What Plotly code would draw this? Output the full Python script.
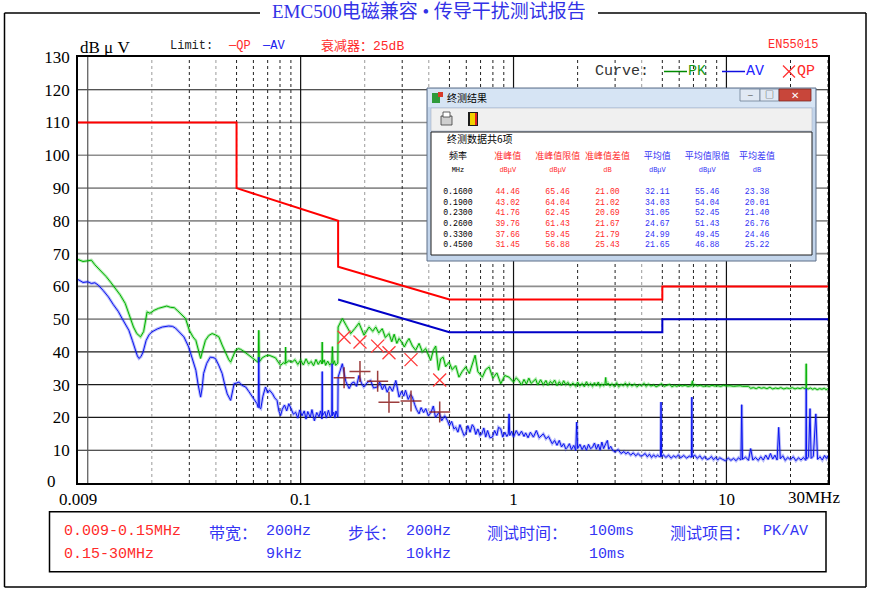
import math
import plotly.graph_objects as go

# ---------------- data ----------------
pk_freq = [
    0.0090, 0.0095, 0.0100, 0.0104, 0.0108, 0.0113, 0.0117, 0.0122, 0.0128, 0.0135,
    0.0142, 0.0150, 0.0157, 0.0164, 0.0170, 0.0177, 0.0183, 0.0187, 0.0190, 0.0196,
    0.0205, 0.0215, 0.0225, 0.0235, 0.0245, 0.0255, 0.0265, 0.0278, 0.0288, 0.0300,
    0.0312, 0.0322, 0.0332, 0.0339, 0.0347, 0.0357, 0.0370, 0.0384, 0.0398, 0.0413,
    0.0428, 0.0444, 0.0460, 0.0469, 0.0480, 0.0495, 0.0510, 0.0522, 0.0540, 0.0555,
    0.0571, 0.0590, 0.0614, 0.0632, 0.0636, 0.0640, 0.0660, 0.0685, 0.0710, 0.0735,
    0.0762, 0.0785, 0.0805, 0.0830, 0.0847, 0.0850, 0.0853, 0.0880, 0.0912, 0.0940,
    0.0970, 0.1000, 0.1030, 0.1060, 0.1090, 0.1120, 0.1150, 0.1180, 0.1210, 0.1240,
    0.1260, 0.1263, 0.1266, 0.1290, 0.1310, 0.1340, 0.1370, 0.1400, 0.1410, 0.1420,
    0.1440, 0.1460, 0.1495,
    0.1500, 0.1570, 0.1640, 0.1718, 0.1800, 0.1880, 0.1985, 0.2096, 0.2180, 0.2253,
    0.2330, 0.2417, 0.2500, 0.2600, 0.2680, 0.2750, 0.2830, 0.2900, 0.3000, 0.3070,
    0.3150, 0.3230, 0.3350, 0.3470, 0.3600, 0.3730, 0.3870, 0.3980, 0.4080, 0.4200,
    0.4310, 0.4440, 0.4550, 0.4670, 0.4800, 0.4980, 0.5150, 0.5350, 0.5540, 0.5750,
    0.5960, 0.6200, 0.6400, 0.6600, 0.6800, 0.7000, 0.7140, 0.7400, 0.7680, 0.8000,
    0.8350, 0.8710, 0.9100, 0.9530, 1.000, 1.030, 1.060, 1.090, 1.120, 1.150,
    1.180, 1.210, 1.230, 1.270, 1.300, 1.340, 1.380, 1.420, 1.450, 1.490,
    1.520, 1.560, 1.600, 1.640, 1.680, 1.720, 1.760, 1.800, 1.850, 1.900,
    1.960, 2.000, 2.050, 2.100, 2.150, 2.200, 2.250, 2.300, 2.350, 2.400,
    2.450, 2.500, 2.550, 2.600, 2.650, 2.690, 2.710, 2.730, 2.780, 2.840,
    2.900, 2.970, 3.050, 3.120, 3.200, 3.280, 3.350, 3.430, 3.500, 3.600,
    3.700, 3.800, 3.900, 4.000, 4.100, 4.200, 4.300, 4.420, 4.550, 4.680,
    4.830, 4.950, 5.100, 5.250, 5.400, 5.550, 5.700, 5.850, 6.000, 6.200,
    6.400, 6.600, 6.850, 6.920, 6.990, 7.150, 7.300, 7.550, 7.800, 8.050,
    8.300, 8.550, 8.800, 9.100, 9.400, 9.700, 10.00, 10.40, 10.80, 11.20,
    11.60, 11.90, 12.30, 12.70, 13.00, 13.40, 13.80, 14.20, 14.60, 15.00,
    15.50, 16.00, 16.50, 17.00, 17.50, 18.00, 18.60, 19.20, 19.80, 20.40,
    21.00, 21.60, 22.20, 22.80, 23.40, 23.65, 23.70, 23.75, 24.20, 24.80,
    25.40, 26.00, 26.70, 27.40, 28.10, 28.80, 29.40, 30.00,
]
pk_dbuv = [
    68.2, 67.6, 67.8, 68.0, 66.6, 65.3, 64.1, 63.0, 61.3, 59.4,
    57.4, 54.8, 51.4, 47.6, 45.6, 44.6, 46.2, 50.4, 52.2, 51.8,
    52.7, 53.3, 53.6, 54.0, 53.6, 53.5, 52.5, 51.2, 50.2, 46.6,
    44.6, 43.5, 40.0, 38.0, 40.6, 43.5, 45.0, 45.6, 45.2, 44.6,
    42.1, 39.5, 37.6, 36.9, 38.6, 40.5, 41.0, 40.8, 40.2, 39.6,
    39.0, 38.1, 37.4, 36.8, 46.6, 37.0, 38.2, 38.8, 39.0, 38.6,
    38.2, 36.9, 35.9, 36.7, 36.4, 41.5, 36.6, 37.3, 36.9, 37.6,
    36.2, 37.5, 36.0, 37.9, 36.3, 37.1, 35.8, 37.7, 36.2, 37.4,
    36.3, 43.0, 36.5, 37.6, 35.9, 37.2, 36.0, 36.8, 41.6, 36.2,
    37.3, 35.9, 36.6,
    47.6, 50.2, 48.0, 45.6, 47.2, 48.8, 45.1, 47.6, 46.3, 47.6,
    45.8, 47.1, 44.4, 45.6, 43.1, 45.4, 42.6, 44.1, 42.8, 41.5,
    43.0, 44.1, 41.8, 40.5, 42.6, 40.0, 41.0, 39.1, 37.4, 40.5,
    41.8, 34.4, 37.9, 38.4, 35.5, 36.9, 34.6, 35.8, 32.3, 34.1,
    35.4, 33.4, 36.4, 39.0, 34.0, 33.1, 32.3, 34.6, 35.4, 32.0,
    33.6, 30.3, 32.8, 32.3, 30.8, 32.1, 31.2, 29.9, 31.6, 30.2,
    32.0, 30.4, 30.8, 31.7, 29.9, 31.5, 30.0, 31.3, 29.8, 31.0,
    30.3, 31.4, 29.7, 30.9, 29.8, 31.2, 30.0, 30.7, 29.6, 30.5,
    29.5, 30.8, 29.6, 30.4, 29.4, 30.9, 29.7, 30.4, 29.5, 30.6,
    29.6, 30.8, 29.5, 30.2, 29.7, 30.4, 32.2, 29.8, 30.5, 29.6,
    30.3, 29.5, 30.6, 29.4, 30.1, 29.7, 30.5, 29.5, 30.4, 29.6,
    30.2, 29.4, 30.0, 29.7, 30.4, 29.5, 30.2, 29.6, 29.9, 29.4,
    29.8, 30.3, 29.5, 29.9, 30.1, 29.4, 29.8, 29.5, 29.9, 29.6,
    29.8, 29.5, 29.7, 31.2, 29.6, 29.9, 29.6, 29.8, 29.5, 29.7,
    29.5, 29.8, 29.6, 29.7, 29.5, 29.8, 29.6, 29.7, 29.5, 29.6,
    29.7, 29.5, 29.6, 29.5, 28.9, 29.1, 28.8, 29.2, 28.9, 29.1,
    28.8, 29.2, 28.7, 29.0, 28.8, 29.1, 28.7, 29.0, 28.8, 29.1,
    28.7, 29.0, 28.8, 29.1, 28.8, 29.0, 36.4, 28.9, 28.7, 29.0,
    28.6, 28.9, 28.5, 28.8, 28.6, 28.9, 28.5, 28.8,
]

av_freq = [
    0.0090, 0.0095, 0.0100, 0.0104, 0.0108, 0.0112, 0.0118, 0.0125, 0.0132, 0.0139,
    0.0145, 0.0150, 0.0156, 0.0162, 0.0167, 0.0171, 0.0174, 0.0178, 0.0182, 0.0188,
    0.0194, 0.0200, 0.0212, 0.0224, 0.0240, 0.0250, 0.0258, 0.0270, 0.0283, 0.0298,
    0.0308, 0.0315, 0.0322, 0.0330, 0.0339, 0.0345, 0.0350, 0.0362, 0.0376, 0.0387,
    0.0398, 0.0412, 0.0428, 0.0440, 0.0452, 0.0469, 0.0478, 0.0487, 0.0500, 0.0513,
    0.0530, 0.0552, 0.0570, 0.0594, 0.0610, 0.0624, 0.0632, 0.0636, 0.0640, 0.0650,
    0.0665, 0.0684, 0.0700, 0.0715, 0.0738, 0.0755, 0.0775, 0.0790, 0.0805, 0.0820,
    0.0840, 0.0860, 0.0880, 0.0900, 0.0925, 0.0947, 0.0970, 0.0990, 0.1015, 0.1040,
    0.1060, 0.1080, 0.1110, 0.1130, 0.1160, 0.1190, 0.1220, 0.1240, 0.1260, 0.1263,
    0.1266, 0.1300, 0.1320, 0.1350, 0.1380, 0.1400, 0.1405, 0.1410, 0.1430, 0.1450,
    0.1465, 0.1480, 0.1495,
    0.1500, 0.1570, 0.1630, 0.1690, 0.1740, 0.1780, 0.1830, 0.1880, 0.1930, 0.1980,
    0.2050, 0.2130, 0.2200, 0.2290, 0.2350, 0.2420, 0.2480, 0.2550, 0.2620, 0.2700,
    0.2800, 0.2850, 0.2900, 0.2980, 0.3050, 0.3110, 0.3200, 0.3280, 0.3350, 0.3430,
    0.3500, 0.3600, 0.3680, 0.3780, 0.3870, 0.3980, 0.4100, 0.4200, 0.4300, 0.4470,
    0.4600, 0.4750, 0.4890, 0.5000, 0.5120, 0.5250, 0.5350, 0.5480, 0.5600, 0.5750,
    0.5850, 0.5960, 0.6100, 0.6250, 0.6400, 0.6520, 0.6650, 0.6800, 0.6950, 0.7100,
    0.7250, 0.7400, 0.7550, 0.7750, 0.7960, 0.8150, 0.8350, 0.8500, 0.8710, 0.8900,
    0.9100, 0.9300, 0.9450, 0.9530, 0.9600, 0.9800, 1.000, 1.030, 1.060, 1.090,
    1.120, 1.140, 1.170, 1.200, 1.240, 1.280, 1.320, 1.380, 1.420, 1.460,
    1.520, 1.560, 1.600, 1.640, 1.680, 1.720, 1.760, 1.790, 1.830, 1.870,
    1.920, 1.960, 1.980, 2.000, 2.050, 2.100, 2.150, 2.200, 2.250, 2.300,
    2.350, 2.400, 2.450, 2.500, 2.550, 2.600, 2.650, 2.710, 2.760, 2.800,
    2.860, 2.920, 3.000, 3.100, 3.200, 3.300, 3.370, 3.450, 3.550, 3.650,
    3.750, 3.850, 3.950, 4.040, 4.150, 4.250, 4.350, 4.450, 4.550, 4.650,
    4.750, 4.830, 4.900, 4.930, 4.960, 5.050, 5.200, 5.350, 5.500, 5.650,
    5.800, 5.950, 6.100, 6.300, 6.500, 6.700, 6.850, 6.880, 6.910, 7.100,
    7.300, 7.500, 7.700, 7.900, 8.100, 8.300, 8.500, 8.700, 8.900, 9.100,
    9.300, 9.600, 9.900, 10.20, 10.50, 10.80, 11.10, 11.40, 11.70, 11.80,
    11.90, 12.30, 12.70, 13.00, 13.30, 13.70, 14.10, 14.50, 14.90, 15.30,
    15.70, 16.10, 16.50, 16.90, 17.30, 17.60, 17.90, 18.40, 18.90, 19.40,
    20.00, 20.60, 21.20, 21.80, 22.40, 23.00, 23.60, 23.70, 23.80, 24.30,
    24.70, 25.00, 25.60, 26.30, 26.80, 27.50, 28.20, 28.90, 29.50, 30.00,
]
av_dbuv = [
    62.1, 61.2, 61.4, 60.9, 61.1, 60.4, 58.8, 56.8, 54.4, 52.4,
    50.2, 48.5, 46.6, 43.5, 40.5, 38.8, 38.0, 38.6, 40.0, 43.5,
    45.2, 46.1, 47.0, 47.6, 47.9, 47.8, 47.3, 46.0, 44.6, 41.5,
    38.5, 36.4, 34.4, 30.0, 26.2, 29.2, 33.4, 36.5, 38.4, 38.3,
    38.0, 36.0, 33.4, 30.0, 27.2, 25.2, 28.0, 30.3, 30.5, 30.8,
    29.8, 29.3, 28.0, 26.2, 25.0, 24.2, 23.0, 38.4, 23.0, 22.7,
    26.5, 29.3, 27.5, 28.3, 27.2, 26.0, 25.2, 22.0, 20.6, 22.5,
    23.8, 22.0, 24.2, 22.5, 21.0, 21.6, 19.8, 22.3, 20.5, 22.0,
    19.5, 21.8, 20.0, 22.4, 19.0, 21.5, 20.2, 22.0, 19.5, 34.0,
    20.5, 21.8, 19.8, 22.2, 20.0, 21.0, 36.4, 20.5, 21.6, 19.8,
    22.0, 20.5, 20.1,
    32.3, 36.4, 31.0, 28.8, 30.5, 30.8, 29.5, 32.8, 30.5, 29.3,
    30.6, 31.3, 29.0, 29.3, 30.8, 28.5, 30.0, 27.7, 29.5, 28.0,
    31.3, 28.5, 26.2, 28.0, 26.5, 28.3, 25.5, 27.0, 26.2, 24.0,
    22.5, 21.1, 23.0, 21.5, 22.7, 20.5, 21.6, 23.5, 20.0, 21.6,
    19.0, 20.5, 19.1, 17.5, 18.8, 16.5, 17.0, 15.5, 17.8, 15.8,
    14.5, 15.0, 17.5, 15.5, 17.8, 17.0, 14.8, 16.5, 14.5, 15.0,
    16.8, 14.0, 16.0, 13.8, 14.0, 16.0, 14.5, 17.0, 16.5, 14.0,
    15.5, 14.2, 15.0, 21.1, 14.5, 15.8, 14.0, 16.0, 14.5, 15.8,
    14.2, 15.3, 13.8, 15.5, 14.0, 16.0, 13.8, 15.0, 13.5, 14.2,
    12.0, 13.0, 11.5, 13.0, 11.0, 12.0, 10.4, 10.9, 12.0, 10.2,
    11.5, 9.9, 18.6, 10.5, 11.8, 10.2, 11.5, 10.0, 11.8, 10.5,
    10.9, 12.2, 10.3, 11.8, 10.0, 12.5, 10.5, 12.0, 13.0, 10.3,
    11.2, 10.0, 9.5, 10.2, 9.0, 9.6, 8.9, 9.4, 8.5, 9.2,
    8.3, 9.0, 8.2, 8.4, 9.0, 8.0, 8.8, 7.8, 8.6, 7.9,
    8.5, 8.1, 8.0, 24.7, 8.0, 8.6, 7.8, 8.5, 7.6, 8.3,
    7.8, 8.6, 7.7, 8.4, 7.6, 8.2, 7.8, 26.2, 8.0, 8.5,
    7.5, 8.3, 7.3, 8.0, 7.2, 7.4, 8.1, 7.1, 7.8, 7.0,
    7.7, 7.2, 6.8, 7.6, 6.9, 7.5, 6.8, 7.7, 7.0, 23.9,
    7.2, 7.9, 6.9, 10.5, 7.0, 7.8, 6.9, 8.0, 7.0, 8.5,
    7.2, 9.0, 7.3, 8.5, 7.0, 17.0, 7.4, 8.3, 6.9, 7.8,
    7.1, 8.0, 6.8, 7.7, 7.0, 7.8, 6.9, 28.8, 7.3, 8.0,
    22.7, 7.5, 8.2, 21.1, 7.2, 8.0, 7.0, 8.4, 7.5, 8.4,
]

qp_limit_freq = [0.009, 0.05, 0.05, 0.15, 0.15, 0.5, 5.0, 5.0, 30.0]
qp_limit_dbuv = [110, 110, 90, 80, 66, 56, 56, 60, 60]
av_limit_freq = [0.15, 0.5, 5.0, 5.0, 30.0]
av_limit_dbuv = [56, 46, 46, 50, 50]

final_freq = ["0.1600", "0.1900", "0.2300", "0.2600", "0.3300", "0.4500"]
final_qp = [44.46, 43.02, 41.76, 39.76, 37.66, 31.45]
final_qp_limit = [65.46, 64.04, 62.45, 61.43, 59.45, 56.88]
final_qp_margin = [21.00, 21.02, 20.69, 21.67, 21.79, 25.43]
final_av = [32.11, 34.03, 31.05, 24.67, 24.99, 21.65]
final_av_limit = [55.46, 54.04, 52.45, 51.43, 49.45, 46.88]
final_av_margin = [23.38, 20.01, 21.40, 26.76, 24.46, 25.22]

table_names = ["频率", "准峰值", "准峰值限值", "准峰值差值", "平均值", "平均值限值", "平均差值"]
table_units = ["MHz", "dBμV", "dBμV", "dB", "dBμV", "dBμV", "dB"]

y_ticks = [10, 20, 30, 40, 50, 60, 70, 80, 90, 100, 110, 120, 130]
x_ticks = [0.009, 0.1, 1, 10]
x_ticktext = ["0.009", "0.1", "1", "10"]

# ---------------- styling ----------------
W, H = 876, 593
L, R, T, B = 78, 828, 57, 483
XLO, XHI = math.log10(0.009), math.log10(30)

RED = "#ff2a2a"
BLUE_T = "#3434f4"
GREEN = "#00b000"
BLUE = "#0a14f0"
SERIF = "Liberation Serif, Noto Sans CJK SC"
MONO = "Liberation Mono, Noto Sans CJK SC"
CJK = "Noto Sans CJK SC"


def px(x):
    return (x - L) / (R - L)


def py(y):
    return (B - y) / (B - T)


def fx(f):
    return (math.log10(f) - XLO) / (XHI - XLO)


shapes = []
annotations = []


def line(x0, y0, x1, y1, color="black", width=1.5, dash="solid", layer="above"):
    shapes.append(dict(type="line", xref="paper", yref="paper", x0=x0, y0=y0, x1=x1, y1=y1,
                       line=dict(color=color, width=width, dash=dash), layer=layer))


def rect(x0, y0, x1, y1, fill, lc="rgba(0,0,0,0)", lw=1, layer="below"):
    shapes.append(dict(type="rect", xref="paper", yref="paper", x0=px(x0), y0=py(y1),
                       x1=px(x1), y1=py(y0), fillcolor=fill, line=dict(color=lc, width=lw),
                       layer=layer))


def text(x, y, s, size, color, family, xanchor="left", yanchor="middle"):
    annotations.append(dict(x=px(x), y=py(y), xref="paper", yref="paper", text=s,
                            showarrow=False, xanchor=xanchor, yanchor=yanchor,
                            font=dict(size=size, color=color, family=family), borderpad=0))


# grid: horizontal
for v in y_ticks[:-1]:
    col = "#8e8e8e" if 50 <= v <= 110 else "#1a1a1a"
    wid = 1.6 if 50 <= v <= 110 else 1.2
    line(0, (v / 130), 1, (v / 130), col, wid, layer="below")
# grid: vertical
gray_minor = [0.02, 0.04, 0.2, 0.4, 4]
for dec in [0.01, 0.1, 1, 10]:
    for k in range(1, 10):
        f = round(dec * k, 6)
        if f > 30:
            continue
        if k == 1:
            line(fx(f), 0, fx(f), 1, "#555555" if dec == 0.01 else "#111111", 1.2, layer="below")
        else:
            col = "#9a9a9a" if any(abs(f - g) < 1e-9 for g in gray_minor) else "#222222"
            line(fx(f), 0, fx(f), 1, col, 1, "dot", layer="below")

# popup window (drawn below traces layer but above grid)
rect(427, 88, 816, 261, "#c3d5eb", "#5c6f88", 1)
rect(428, 89, 815, 107, "#d6e4f4")
rect(431, 108, 812, 131, "#f0f0f0", "#a9b4c2", 0.6)
rect(431, 132, 812, 255, "#ffffff", "#1e1e1e", 1)
rect(740, 89, 760, 101, "#e1e9f4", "#6d7f96", 0.8)
rect(760, 89, 779, 101, "#e1e9f4", "#6d7f96", 0.8)
rect(779, 89, 811, 101, "#c8463a", "#7d2a22", 0.8)
rect(432, 93, 440, 103, "#2f9a3a")
rect(438, 92, 443, 97, "#d83a2a")
rect(441, 116, 452, 125, "#cfcfcf", "#3c3c3c", 0.8)
rect(443, 112, 450, 117, "#ffffff", "#3c3c3c", 0.8)
rect(468, 112, 478, 126, "#1c1c1c")
rect(470, 113, 475, 125, "#f2d000")
rect(475, 113, 477, 125, "#e02020")

# outer frame with title gap
line(px(4.5), py(13), px(4.5), py(587))
line(px(866), py(13), px(866), py(587))
line(px(4.5), py(587), px(866), py(587))
line(px(4.5), py(13), px(260), py(13))
line(px(598), py(13), px(866), py(13))
# bottom info box
rect(49.5, 511.7, 826, 571.7, "rgba(0,0,0,0)", "black", 1.5, layer="above")
# legend glyphs
line(px(664), py(71.5), px(687), py(71.5), "#008a00", 1.5)
line(px(722), py(71.5), px(745), py(71.5), "#1010e0", 1.5)
line(px(783), py(65.5), px(795), py(77.5), "#ff3030", 1.2)
line(px(783), py(77.5), px(795), py(65.5), "#ff3030", 1.2)

# texts
text(429, 11, "EMC500电磁兼容 • 传导干扰测试报告", 19, "#3232e6", SERIF, "center")
text(79, 47, "dB μ V", 17, "black", SERIF)
text(169, 46, "Limit:", 12, "#222222", MONO)
text(227, 46, "—QP", 12, RED, MONO)
text(261, 46, "—AV", 12, "#2020ee", MONO)
text(320, 46, "衰减器：25dB", 13, RED, MONO)
text(767, 45, "EN55015", 12, RED, MONO)
text(594, 72, "Curve:", 15, "#333333", MONO)
text(687, 72, "PK", 15, "#159a15", MONO)
text(745, 72, "AV", 15, "#2222ff", MONO)
text(796, 72, "QP", 15, RED, MONO)
text(841, 497, "30MHz", 17, "black", SERIF, "right")
text(51, 481, "0", 17, "black", SERIF, "center")
# popup texts
text(446, 98, "终测结果", 10, "black", CJK)
text(750, 95, "—", 8, "#333333", MONO, "center")
text(769.5, 95, "□", 9, "#333333", CJK, "center")
text(795, 95, "✕", 10, "white", CJK, "center")
text(446, 138, "终测数据共6项", 10, "black", CJK)
# bottom box texts
row1, row2 = 531.7, 554
text(63, row1, "0.009-0.15MHz", 15, RED, MONO)
text(63, row2, "0.15-30MHz", 15, RED, MONO)
text(208, row1, "带宽：", 16, BLUE_T, CJK)
text(265, row1, "200Hz", 15, BLUE_T, MONO)
text(265, row2, "9kHz", 15, BLUE_T, MONO)
text(347, row1, "步长：", 16, BLUE_T, CJK)
text(405, row1, "200Hz", 15, BLUE_T, MONO)
text(405, row2, "10kHz", 15, BLUE_T, MONO)
text(486, row1, "测试时间：", 16, BLUE_T, CJK)
text(588, row1, "100ms", 15, BLUE_T, MONO)
text(588, row2, "10ms", 15, BLUE_T, MONO)
text(669, row1, "测试项目：", 16, BLUE_T, CJK)
text(762, row1, "PK/AV", 15, BLUE_T, MONO)

fig = go.Figure()

fig.add_trace(go.Scatter(x=av_limit_freq, y=av_limit_dbuv, mode="lines",
                         line=dict(color="#0000c8", width=2), hoverinfo="skip"))
fig.add_trace(go.Scatter(x=qp_limit_freq, y=qp_limit_dbuv, mode="lines",
                         line=dict(color="#ff0000", width=2), hoverinfo="skip"))
fig.add_trace(go.Scatter(x=pk_freq, y=pk_dbuv, mode="lines",
                         line=dict(color="rgba(0,190,0,0.3)", width=3), hoverinfo="skip"))
fig.add_trace(go.Scatter(x=pk_freq, y=pk_dbuv, mode="lines", line=dict(color=GREEN, width=1)))
fig.add_trace(go.Scatter(x=av_freq, y=av_dbuv, mode="lines",
                         line=dict(color="rgba(20,30,240,0.3)", width=3), hoverinfo="skip"))
fig.add_trace(go.Scatter(x=av_freq, y=av_dbuv, mode="lines", line=dict(color=BLUE, width=1)))

fin_f = [float(v) for v in final_freq]
fig.add_trace(go.Scatter(x=fin_f, y=final_qp, mode="markers",
                         marker=dict(symbol="x-thin-open", size=13, color="#ff3a3a",
                                     line=dict(width=1.3, color="#ff3a3a"))))
fig.add_trace(go.Scatter(x=fin_f, y=final_av, mode="markers", opacity=0.85,
                         marker=dict(symbol="cross-thin-open", size=15, color="#8b1c1c",
                                     line=dict(width=1.5, color="#8b1c1c"))))

col_colors = ["black", RED, RED, RED, BLUE_T, BLUE_T, BLUE_T]
cols = [final_qp, final_qp_limit, final_qp_margin, final_av, final_av_limit, final_av_margin]
cell_vals = [["<br>".join(final_freq)]] + [["<br>".join(f"{v:.2f}" for v in c)] for c in cols]
clear = dict(color="rgba(0,0,0,0)")
tab_x = [px(433), px(783)]

# result table: names header + values
fig.add_trace(go.Table(
    domain=dict(x=tab_x, y=[py(278), py(144)]),
    columnwidth=[1] * 7,
    header=dict(values=table_names, height=35, align="center", fill=clear, line=clear,
                font=dict(size=9, color=col_colors, family=CJK)),
    cells=dict(values=cell_vals, height=20, align="center", fill=clear, line=clear,
               font=dict(size=8.2, color=col_colors, family=MONO)),
))
# unit row of the table header
fig.add_trace(go.Table(
    domain=dict(x=tab_x, y=[py(186), py(158.5)]),
    columnwidth=[1] * 7,
    header=dict(values=table_units, height=24, align="center", fill=clear, line=clear,
                font=dict(size=7, color=col_colors, family=MONO)),
    cells=dict(values=[[] for _ in table_units], height=1, fill=clear, line=clear),
))

fig.update_layout(
    width=W, height=H, autosize=False,
    margin=dict(l=L, r=W - R, t=T, b=H - B, pad=0),
    paper_bgcolor="white", plot_bgcolor="white",
    showlegend=False,
    shapes=shapes, annotations=annotations,
    xaxis=dict(type="log", range=[XLO, XHI], showgrid=False, zeroline=False,
               showline=True, mirror=True, linecolor="black", linewidth=1.5,
               ticks="", tickvals=x_ticks, ticktext=x_ticktext,
               tickfont=dict(family=SERIF, size=17, color="black")),
    yaxis=dict(range=[0, 130], showgrid=False, zeroline=False,
               showline=True, mirror=True, linecolor="black", linewidth=1.5,
               ticks="", tickvals=y_ticks, ticklabelstandoff=3,
               tickfont=dict(family=SERIF, size=17, color="black")),
)

fig.write_html("out.html", config={"displayModeBar": False},
               post_script="document.body.style.margin='0';")
